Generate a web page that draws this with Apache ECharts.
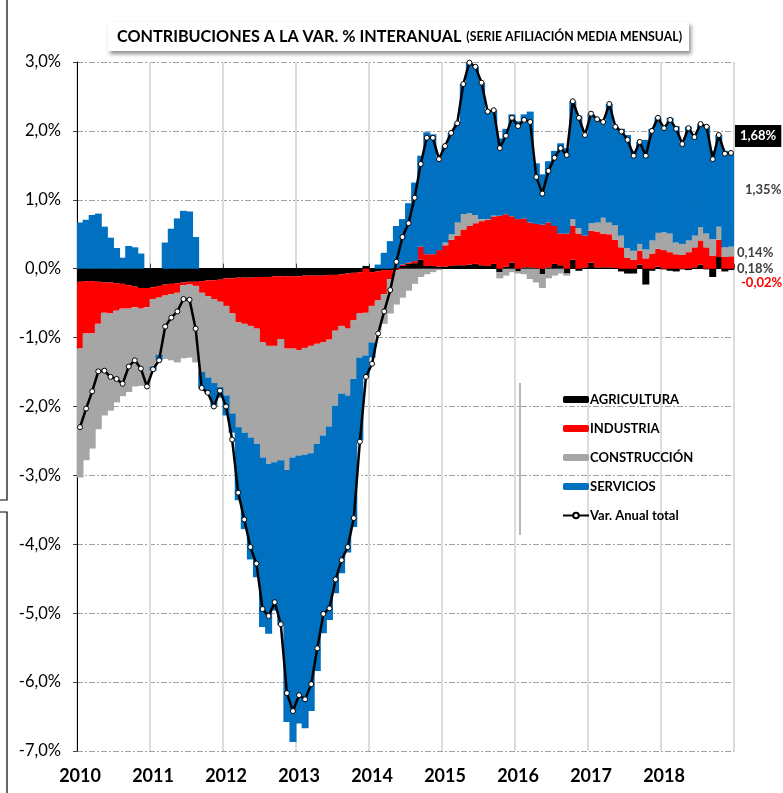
<!DOCTYPE html>
<html>
<head>
<meta charset="utf-8">
<title>Contribuciones a la var. % interanual</title>
<script src="https://cdn.jsdelivr.net/npm/echarts@6/dist/echarts.min.js"></script>
<style>
  html, body { margin: 0; padding: 0; background: #fff; }
  #chart { width: 783px; height: 793px; }
</style>
</head>
<body>
<div id="chart"></div>
<script>
// años del eje (una etiqueta por enero)
var years = ['2010', '2011', '2012', '2013', '2014', '2015', '2016', '2017', '2018'];

// contribuciones mensuales (puntos porcentuales), ene-2010 .. dic-2018
var agricultura = [
  -0.19, -0.18, -0.18, -0.19, -0.20, -0.20, -0.21, -0.22, -0.24, -0.26, -0.28, -0.28,
  -0.27, -0.25, -0.23, -0.22, -0.21, -0.20, -0.19, -0.19, -0.18, -0.17, -0.17, -0.16,
  -0.14, -0.14, -0.13, -0.13, -0.13, -0.12, -0.12, -0.12, -0.11, -0.11, -0.11, -0.11,
  -0.11, -0.10, -0.10, -0.10, -0.10, -0.09, -0.09, -0.08, -0.07, -0.06, -0.05, 0.04,
  -0.05, -0.04, -0.02, -0.02, 0.02, 0.04, 0.07, 0.08, 0.13, 0.04, 0.04, 0.03,
  0.03, 0.04, 0.05, 0.05, 0.06, 0.07, 0.05, 0.04, 0.07, -0.05, 0.03, 0.09,
  -0.04, 0.02, 0.02, 0.01, -0.08, 0.02, 0.07, 0.05, -0.07, 0.13, -0.03, 0.02,
  0.09, 0.02, 0.02, 0.02, 0.01, -0.04, -0.07, -0.07, 0.06, -0.23, -0.03, 0.03,
  -0.01, -0.03, -0.04, -0.01, -0.02, 0.02, 0.06, -0.01, -0.12, 0.17, -0.04, -0.02
];
var industria = [
  -0.97, -0.76, -0.76, -0.61, -0.44, -0.45, -0.40, -0.36, -0.34, -0.30, -0.30, -0.28,
  -0.17, -0.17, -0.16, -0.15, -0.14, -0.04, -0.04, -0.06, -0.17, -0.23, -0.27, -0.32,
  -0.40, -0.51, -0.65, -0.67, -0.70, -0.75, -0.95, -1.00, -1.01, -0.91, -1.05, -1.05,
  -1.07, -1.05, -1.02, -0.99, -0.97, -0.94, -0.81, -0.75, -0.80, -0.69, -0.60, -0.64,
  -0.49, -0.42, -0.35, -0.13, -0.02, 0.02, 0.02, 0.03, 0.19, 0.17, 0.17, 0.24,
  0.31, 0.38, 0.43, 0.52, 0.56, 0.59, 0.64, 0.67, 0.69, 0.77, 0.76, 0.67,
  0.72, 0.71, 0.65, 0.64, 0.64, 0.65, 0.55, 0.46, 0.51, 0.49, 0.51, 0.46,
  0.46, 0.52, 0.49, 0.48, 0.41, 0.31, 0.16, 0.13, 0.20, 0.15, 0.22, 0.26,
  0.27, 0.24, 0.21, 0.20, 0.24, 0.29, 0.35, 0.31, 0.19, 0.25, 0.17, 0.18
];
var construccion = [
  -1.87, -1.84, -1.67, -1.53, -1.49, -1.41, -1.33, -1.27, -1.21, -1.15, -1.12, -1.14,
  -0.98, -0.83, -0.92, -0.96, -1.01, -1.06, -1.06, -1.11, -1.15, -1.18, -1.22, -1.24,
  -1.30, -1.45, -1.52, -1.58, -1.62, -1.67, -1.67, -1.71, -1.69, -1.76, -1.76, -1.58,
  -1.53, -1.55, -1.56, -1.45, -1.35, -1.26, -1.09, -0.98, -0.97, -0.85, -0.64, -0.62,
  -0.53, -0.44, -0.43, -0.50, -0.50, -0.42, -0.32, -0.22, -0.12, -0.08, -0.05, -0.02,
  0.04, 0.08, 0.19, 0.22, 0.19, 0.12, 0.03, 0.01, 0.01, -0.09, -0.10, -0.05,
  -0.03, -0.08, -0.15, -0.20, -0.20, -0.14, -0.10, -0.07, -0.03, 0.10, 0.08, 0.00,
  0.11, 0.13, 0.23, 0.17, 0.21, 0.17, 0.14, 0.13, 0.10, 0.13, 0.19, 0.23,
  0.26, 0.27, 0.17, 0.16, 0.17, 0.17, 0.19, 0.20, 0.24, 0.19, 0.14, 0.14
];
var servicios = [
  0.67, 0.71, 0.78, 0.80, 0.61, 0.45, 0.30, 0.16, 0.33, 0.31, 0.22, 0.00,
  -0.06, -0.08, 0.38, 0.58, 0.73, 0.84, 0.83, 0.46, -0.24, -0.23, -0.34, -0.15,
  -0.29, -0.28, -1.06, -1.40, -1.77, -1.94, -2.46, -2.47, -2.15, -2.39, -3.66, -4.13,
  -3.89, -3.97, -3.74, -3.30, -2.87, -2.81, -2.72, -2.61, -2.28, -2.15, -1.20, -0.32,
  -0.22, 0.06, 0.23, 0.40, 0.60, 0.66, 0.86, 1.14, 1.32, 1.77, 1.74, 1.34,
  1.40, 1.47, 1.44, 1.89, 2.18, 2.15, 1.98, 1.56, 1.53, 1.12, 1.24, 1.48,
  1.42, 1.51, 1.61, 0.88, 0.73, 0.89, 1.09, 1.31, 1.24, 1.71, 1.63, 1.46,
  1.59, 1.50, 1.39, 1.72, 1.43, 1.55, 1.64, 1.45, 1.48, 1.59, 1.62, 1.67,
  1.52, 1.68, 1.69, 1.46, 1.65, 1.43, 1.50, 1.56, 1.28, 1.33, 1.40, 1.35
];
var varAnualTotal = [
  -2.30, -2.03, -1.78, -1.49, -1.48, -1.57, -1.60, -1.67, -1.42, -1.33, -1.45, -1.71,
  -1.46, -1.33, -0.84, -0.71, -0.62, -0.44, -0.45, -0.87, -1.73, -1.80, -2.00, -1.77,
  -2.00, -2.48, -3.25, -3.64, -4.04, -4.28, -4.94, -5.04, -4.84, -5.16, -6.16, -6.42,
  -6.19, -6.25, -6.03, -5.51, -5.01, -4.93, -4.51, -4.23, -4.04, -3.62, -2.51, -1.57,
  -1.38, -0.94, -0.62, -0.31, 0.10, 0.46, 0.66, 1.03, 1.52, 1.90, 1.90, 1.59,
  1.78, 1.97, 2.11, 2.68, 2.99, 2.93, 2.70, 2.28, 2.30, 1.75, 1.93, 2.19,
  2.07, 2.16, 2.13, 1.33, 1.09, 1.42, 1.61, 1.75, 1.65, 2.43, 2.19, 1.94,
  2.25, 2.17, 2.13, 2.39, 2.06, 1.99, 1.87, 1.64, 1.84, 1.64, 2.00, 2.19,
  2.04, 2.16, 2.03, 1.81, 2.04, 1.91, 2.10, 2.06, 1.59, 1.94, 1.67, 1.68
];

var FONT = 'Lato, "Noto Sans", sans-serif';

var months = [];
years.forEach(function (y) {
  for (var m = 1; m <= 12; m++) months.push(y + '-' + (m < 10 ? '0' + m : m));
});

function pct(v, d) {
  return v.toFixed(d).replace('.', ',') + '%';
}

// la última barra de cada serie lleva su etiqueta a la derecha
function withEndLabel(arr, label) {
  return arr.map(function (v, i) {
    if (i < arr.length - 1) return v;
    return { value: v, label: label };
  });
}
function endLabel(color, offset) {
  return {
    show: true, position: 'right', distance: 3, offset: offset,
    color: color, fontFamily: FONT, fontWeight: 'bold', fontSize: 13,
    formatter: function (p) { return pct(p.value, 2); }
  };
}

var chart = echarts.init(document.getElementById('chart'));

// barras algo más anchas que la categoría para que no queden rendijas
var barBase = { type: 'bar', stack: 'contrib', barWidth: 7, xAxisIndex: 0 };

chart.setOption({
  animation: false,
  backgroundColor: '#fff',
  title: {
    text: '{a|CONTRIBUCIONES A LA VAR. % INTERANUAL} {b|(SERIE AFILIACIÓN MEDIA MENSUAL)}',
    left: 108, top: 22,
    padding: [6, 7, 5, 9],
    backgroundColor: '#fff',
    shadowColor: 'rgba(0,0,0,0.45)', shadowBlur: 4, shadowOffsetX: 2, shadowOffsetY: 3,
    textStyle: {
      rich: {
        a: { fontFamily: FONT, fontWeight: 'bold', fontSize: 16.2, color: '#000' },
        b: { fontFamily: FONT, fontSize: 12.3, color: '#000' }
      }
    }
  },
  legend: {
    orient: 'vertical', left: 557, top: 388,
    itemWidth: 26, itemHeight: 7, itemGap: 16,
    textStyle: { fontFamily: FONT, fontWeight: 'bold', fontSize: 13, color: '#000', padding: [0, 0, 0, -4] },
    data: ['AGRICULTURA', 'INDUSTRIA', 'CONSTRUCCIÓN', 'SERVICIOS', 'Var. Anual total']
  },
  grid: { left: 77, right: 49, top: 62, bottom: 42 },
  xAxis: [
    {
      type: 'category', data: months, position: 'bottom',
      axisLine: { show: false, onZero: false },
      axisTick: { show: false },
      axisLabel: {
        interval: function (i) { return i % 12 === 0; },
        formatter: function (v) { return v.slice(0, 4); },
        margin: 16, fontFamily: FONT, fontWeight: 'bold', fontSize: 18, color: '#000'
      },
      splitLine: {
        show: true,
        interval: function (i) { return i % 12 === 0; },
        lineStyle: { color: '#dcdcdc', width: 2 }
      }
    },
    {
      type: 'category', data: months, position: 'bottom',
      axisLine: { show: true, onZero: true, lineStyle: { color: '#000', width: 1 } },
      axisTick: { show: true, inside: true, length: 5, interval: function (i) { return i % 12 === 0; }, lineStyle: { color: '#404040' } },
      axisLabel: { show: false },
      splitLine: { show: false }
    }
  ],
  yAxis: {
    type: 'value', min: -7, max: 3, interval: 1,
    axisLine: { show: true, lineStyle: { color: '#000', width: 1 } },
    axisTick: { show: true, length: 4, lineStyle: { color: '#404040' } },
    axisLabel: {
      margin: 16, fontFamily: FONT, fontSize: 16.5, color: '#000',
      formatter: function (v) { return pct(v, 1); }
    },
    splitLine: { show: true, lineStyle: { color: '#a0a0a0', width: 1, type: [6, 2, 2, 2] } }
  },
  series: [
    Object.assign({ name: 'AGRICULTURA', itemStyle: { color: '#000000' },
      data: withEndLabel(agricultura, endLabel('#ff0000', [4, 13])) }, barBase),
    Object.assign({ name: 'INDUSTRIA', itemStyle: { color: '#ff0000' },
      data: withEndLabel(industria, endLabel('#404040', [0, 6])) }, barBase),
    Object.assign({ name: 'CONSTRUCCIÓN', itemStyle: { color: '#a6a6a6' },
      data: withEndLabel(construccion, endLabel('#404040', [0, 1])) }, barBase),
    Object.assign({ name: 'SERVICIOS', itemStyle: { color: '#0070c0' },
      data: withEndLabel(servicios, endLabel('#404040', [8, -10])) }, barBase),
    {
      name: 'Var. Anual total', type: 'line', xAxisIndex: 0, z: 10,
      data: varAnualTotal,
      symbol: 'circle', symbolSize: 5, showAllSymbol: true,
      itemStyle: { color: '#fff', borderColor: '#000', borderWidth: 1 },
      lineStyle: { color: '#000', width: 2.5 },
      endLabel: {
        show: true, distance: 4, offset: [0, -17],
        color: '#fff', backgroundColor: '#000', padding: [5, 5, 4, 5],
        fontFamily: FONT, fontWeight: 'bold', fontSize: 13,
        formatter: function (p) { return pct(p.value, 2); }
      }
    }
  ],
  graphic: [
    // sombra lateral del recuadro de la leyenda
    { type: 'rect', left: 519, top: 383, shape: { width: 2, height: 152 }, style: { fill: '#b8b8b8' }, silent: true },
    // bordes de los recuadros vecinos en el margen izquierdo
    { type: 'polyline', silent: true, shape: { points: [[7, 0], [7, 500], [0, 500]] }, style: { stroke: '#000', lineWidth: 1.2, fill: null } },
    { type: 'polyline', silent: true, shape: { points: [[0, 512], [7, 512], [7, 793]] }, style: { stroke: '#000', lineWidth: 1.2, fill: null } }
  ]
});
</script>
</body>
</html>
